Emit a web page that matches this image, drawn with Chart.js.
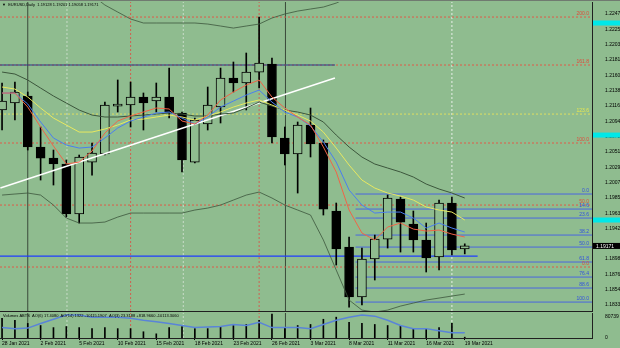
<!DOCTYPE html>
<html>
<head>
<meta charset="utf-8">
<script src="https://cdn.jsdelivr.net/npm/chart.js@4.4.1/dist/chart.umd.min.js"></script>
<style>
  html, body { margin: 0; padding: 0; background: #8fbc8f; }
  #wrap { position: relative; width: 620px; height: 348px; overflow: hidden; background: #8fbc8f; }
  #main { position: absolute; left: 0; top: 0; }
  #vol { position: absolute; left: 0; top: 312px; }
</style>
</head>
<body>
<div id="wrap">
  <canvas id="main" width="620" height="312"></canvas>
  <canvas id="vol" width="620" height="36"></canvas>
</div>
<script>
// EURUSD daily, 28 Jan 2021 .. 19 Mar 2021 (bar index 0..36)
const dateTickBars = [0, 3, 6, 9, 12, 15, 18, 21, 24, 27, 30, 33, 36];
const dateLabels = ["28 Jan 2021", "2 Feb 2021", "5 Feb 2021", "10 Feb 2021", "15 Feb 2021", "18 Feb 2021",
  "23 Feb 2021", "26 Feb 2021", "3 Mar 2021", "8 Mar 2021", "11 Mar 2021", "16 Mar 2021", "19 Mar 2021"];

const opens = [1.21106, 1.21205, 1.21305, 1.20579, 1.20422, 1.20337, 1.19625, 1.20365, 1.20479, 1.21162,
  1.21177, 1.21291, 1.21234, 1.21291, 1.21063, 1.20365, 1.20906, 1.21148, 1.21561, 1.21490,
  1.21646, 1.21760, 1.20707, 1.20479, 1.20892, 1.20636, 1.19668, 1.19155, 1.18444, 1.18985,
  1.19269, 1.19839, 1.19483, 1.19255, 1.19013, 1.19782, 1.19128];
const highs = [1.21490, 1.21504, 1.21362, 1.20864, 1.20536, 1.20394, 1.20465, 1.20636, 1.21219, 1.21533,
  1.21504, 1.21348, 1.21490, 1.21703, 1.21077, 1.20992, 1.21433, 1.21703, 1.21789, 1.21917,
  1.22429, 1.21846, 1.20864, 1.20935, 1.21134, 1.20679, 1.19782, 1.19298, 1.19141, 1.19326,
  1.19896, 1.19867, 1.19668, 1.19497, 1.19824, 1.19867, 1.19201];
const lows = [1.20821, 1.20963, 1.20536, 1.20109, 1.20038, 1.19582, 1.19497, 1.20180, 1.20465, 1.21077,
  1.20864, 1.20821, 1.21077, 1.20992, 1.20223, 1.20351, 1.20821, 1.20921, 1.21362, 1.21106,
  1.21419, 1.20636, 1.20323, 1.19924, 1.20437, 1.19611, 1.18899, 1.18301, 1.18330, 1.18686,
  1.19141, 1.19084, 1.19084, 1.18800, 1.18828, 1.19042, 1.19058];
const closes = [1.21234, 1.21362, 1.20579, 1.20422, 1.20337, 1.19625, 1.20437, 1.20493, 1.21177, 1.21191,
  1.21291, 1.21205, 1.21291, 1.21063, 1.20394, 1.20963, 1.21177, 1.21561, 1.21490, 1.21646,
  1.21775, 1.20721, 1.20479, 1.20892, 1.20622, 1.19696, 1.19127, 1.18444, 1.18985, 1.19269,
  1.19853, 1.19511, 1.19255, 1.18999, 1.19782, 1.19113, 1.19171];

// moving averages and bands
const maRed = [1.21347, 1.21347, 1.21148, 1.20863, 1.20593, 1.20337, 1.20365, 1.20522, 1.20778, 1.20949,
  1.21020, 1.21077, 1.21134, 1.21120, 1.20949, 1.20906, 1.21034, 1.21248, 1.21362, 1.21461,
  1.21532, 1.21290, 1.21134, 1.21006, 1.20892, 1.20579, 1.20223, 1.19682, 1.19355, 1.19255,
  1.19440, 1.19497, 1.19411, 1.19383, 1.19397, 1.19340, 1.19298];
const maBlue = [1.21347, 1.21347, 1.21191, 1.20935, 1.20707, 1.20607, 1.20564, 1.20579, 1.20707, 1.20849,
  1.20949, 1.21006, 1.21063, 1.21077, 1.20991, 1.20906, 1.21006, 1.21148, 1.21233, 1.21319,
  1.21390, 1.21219, 1.21077, 1.21006, 1.20878, 1.20650, 1.20365, 1.19967, 1.19753, 1.19639,
  1.19653, 1.19653, 1.19568, 1.19426, 1.19497, 1.19426, 1.19369];
const maYellow = [1.21433, 1.21404, 1.21290, 1.21134, 1.20991, 1.20892, 1.20792, 1.20792, 1.20835, 1.20892,
  1.20963, 1.20977, 1.21006, 1.21034, 1.21006, 1.20963, 1.21020, 1.21077, 1.21148, 1.21205,
  1.21248, 1.21176, 1.21105, 1.21034, 1.20949, 1.20792, 1.20564, 1.20322, 1.20109, 1.19995,
  1.19924, 1.19881, 1.19824, 1.19725, 1.19682, 1.19653, 1.19540];
const maDark = [1.21646, 1.21618, 1.21532, 1.21418, 1.21305, 1.21205, 1.21105, 1.21034, 1.21006, 1.21006,
  1.21020, 1.21034, 1.21048, 1.21063, 1.21048, 1.21020, 1.21020, 1.21048, 1.21063, 1.21134,
  1.21219, 1.21162, 1.21105, 1.21077, 1.21034, 1.20935, 1.20749, 1.20579, 1.20436, 1.20337,
  1.20280, 1.20223, 1.20152, 1.20052, 1.19981, 1.19924, 1.19853];
const bandUpper = [1.23098, 1.23070, 1.23027, 1.22984, 1.22927, 1.22870, 1.22813, 1.22742, 1.22600, 1.22500,
  1.22401, 1.22344, 1.22344, 1.22344, 1.22344, 1.22344, 1.22329, 1.22301, 1.22272, 1.22301,
  1.22329, 1.22415, 1.22472, 1.22514, 1.22543, 1.22571, 1.22628, 1.22714, 1.22800, 1.22850,
  1.22870, 1.22880, 1.22870, 1.22860, 1.22850, 1.22840, 1.22820];
const bandLower = [1.19895, 1.19910, 1.19924, 1.19895, 1.19753, 1.19568, 1.19497, 1.19497, 1.19511, 1.19582,
  1.19639, 1.19639, 1.19639, 1.19639, 1.19639, 1.19682, 1.19710, 1.19753, 1.19824, 1.19895,
  1.19938, 1.19853, 1.19753, 1.19682, 1.19611, 1.19255, 1.18828, 1.18401, 1.18258, 1.18230,
  1.18258, 1.18315, 1.18358, 1.18401, 1.18429, 1.18458, 1.18486];

// volume panel
const volumes = [73000, 65400, 53800, 46100, 38400, 42300, 38400, 34600, 38400, 34600,
  34600, 23100, 15400, 38400, 42300, 34600, 34600, 42300, 46100, 50000,
  65400, 88400, 38400, 46100, 50000, 69200, 76900, 57700, 53800, 50000,
  46100, 46100, 34600, 34600, 38400, 53800, 3000];
const volLine = [38400, 34600, 36500, 53800, 69200, 84600, 84600, 76900, 76900, 76900,
  73000, 65400, 59600, 53800, 46100, 38400, 40400, 42300, 50000, 46100,
  57700, 38400, 38400, 38400, 34600, 50000, 65400, 76900, 84600, 80700,
  65400, 46100, 34600, 34600, 26900, 19200, 19200];
const volTicks = [0, 80739];

// price axis
const priceTicks = [1.18330, 1.18548, 1.18766, 1.18984, 1.19420, 1.19638, 1.19856, 1.20074,
  1.20292, 1.20510, 1.20728, 1.20946, 1.21164, 1.21382, 1.21600, 1.21818, 1.22036, 1.22254, 1.22472];
const cyanMarks = [1.22344, 1.20749, 1.19540];
const lastPrice = 1.19171;

// drawn objects
const redLevels = [1.22429, 1.21746, 1.20636, 1.19753, 1.18871];
const redLevelNames = ["200.0", "161.8", "100.0", "50.0", "0.0"];
const fibLevels = [1.19910, 1.19696, 1.19568, 1.19326, 1.19155, 1.18942, 1.18728, 1.18572, 1.18372];
const fibNames = ["0.0", "14.6", "23.6", "38.2", "50.0", "61.8", "76.4", "88.6", "100.0"];
const yellowLevel = 1.21048;
const navyLine = { from: -0.2, to: 25.9, price: 1.21746 };
const blueLine = { from: -0.2, to: 37.0, price: 1.19027 };
const trendLine = [{ x: -0.13, y: 1.19995 }, { x: 25.9, y: 1.21562 }];
const vLines = [
  { bar: 2, color: "#3a4a3a", dash: [] },
  { bar: 5.05, color: "#c8dcc8", dash: [2, 2] },
  { bar: 10, color: "#d06050", dash: [2, 2] },
  { bar: 14.1, color: "#c8dcc8", dash: [2, 2] },
  { bar: 20, color: "#d06050", dash: [2, 2] },
  { bar: 22.05, color: "#3a4a3a", dash: [] },
  { bar: 35, color: "#e8f0e8", dash: [2, 2] }
];

const BG = "#8fbc8f";
const FONT = "'Liberation Sans', Arial, sans-serif";
const X_MIN = -0.16, X_MAX = 45.9;
const Y_MIN = 1.18245, Y_MAX = 1.22643;

Chart.defaults.font.family = FONT;
Chart.defaults.animation = false;

function series(arr) {
  return arr.map((v, i) => ({ x: i, y: v }));
}

function hLine(price, from, to, color, dash, width) {
  return {
    type: "line", data: [{ x: from, y: price }, { x: to, y: price }],
    borderColor: color, borderWidth: width || 1, borderDash: dash || [],
    pointRadius: 0, order: 20
  };
}

function maLine(arr, color, width) {
  return {
    type: "line", data: series(arr), borderColor: color, borderWidth: width || 1,
    pointRadius: 0, tension: 0, order: 1
  };
}

const mainOverlay = {
  id: "mainOverlay",
  afterDraw(chart) {
    const { ctx, chartArea } = chart;
    const y = chart.scales.y;
    ctx.save();
    ctx.font = "5px " + FONT;
    ctx.textAlign = "right";
    ctx.textBaseline = "bottom";
    ctx.fillStyle = "#e04a3a";
    redLevels.forEach((p, i) => ctx.fillText(redLevelNames[i], chartArea.right - 3, y.getPixelForValue(p) - 0.5));
    ctx.fillStyle = "#3050e0";
    fibLevels.forEach((p, i) => ctx.fillText(fibNames[i], chartArea.right - 3, y.getPixelForValue(p) - 0.5));
    ctx.fillStyle = "#e8e850";
    ctx.fillText("123.6", chartArea.right - 3, y.getPixelForValue(yellowLevel) - 0.5);

    // axis markers
    ctx.fillStyle = "#00e8e8";
    cyanMarks.forEach(p => {
      const py = y.getPixelForValue(p);
      ctx.fillRect(chartArea.right + 1, py - 2.5, 27, 5);
    });
    const lp = y.getPixelForValue(lastPrice);
    ctx.fillStyle = "#000";
    ctx.fillRect(chartArea.right + 1, lp - 3, 27, 6);
    ctx.fillStyle = "#fff";
    ctx.textAlign = "left";
    ctx.textBaseline = "middle";
    ctx.fillText(lastPrice.toFixed(5), chartArea.right + 4, lp + 0.5);

    // title
    ctx.fillStyle = "#000";
    ctx.font = "4px " + FONT;
    ctx.fillText("\u25BC  EURUSD,Daily  1.19128 1.19201 1.19058 1.19171", 2, 5);

    // frame
    ctx.strokeStyle = "#707a70";
    ctx.lineWidth = 1;
    ctx.beginPath();
    ctx.moveTo(0, 0.5); ctx.lineTo(620, 0.5);
    ctx.stroke();
    ctx.strokeStyle = "#202020";
    ctx.beginPath();
    ctx.moveTo(0, chartArea.bottom + 0.5); ctx.lineTo(chartArea.right, chartArea.bottom + 0.5);
    ctx.stroke();
    ctx.restore();
  }
};

const mainDatasets = [
  // candle bodies over wicks
  {
    type: "bar",
    data: opens.map((o, i) => ({ x: i, y: [o, closes[i]] })),
    backgroundColor: opens.map((o, i) => closes[i] >= o ? BG : "#000"),
    borderColor: "#000", borderWidth: 1, borderSkipped: false,
    barThickness: 9, grouped: false, minBarLength: 1, order: 5
  },
  {
    type: "bar",
    data: lows.map((l, i) => ({ x: i, y: [l, highs[i]] })),
    backgroundColor: "#000", borderWidth: 0,
    barThickness: 1, grouped: false, order: 6
  },
  maLine(maRed, "#f06448", 1),
  maLine(maBlue, "#4a7ef0", 1),
  maLine(maYellow, "#e8e860", 1),
  maLine(maDark, "#3c563c", 1),
  maLine(bandUpper, "#3c563c", 0.8),
  maLine(bandLower, "#3c563c", 0.8),
  {
    type: "line", data: trendLine, borderColor: "#ffffff", borderWidth: 1.5,
    pointRadius: 0, order: 2
  },
  hLine(navyLine.price, navyLine.from, navyLine.to, "#243a8a", [], 1.2),
  hLine(blueLine.price, blueLine.from, blueLine.to, "#1e3cff", [], 1.2),
  hLine(yellowLevel, X_MIN, X_MAX, "#e0e060", [2, 2], 1)
];
redLevels.forEach(p => mainDatasets.push(hLine(p, X_MIN, X_MAX, "#e05a48", [2, 2], 1)));
fibLevels.forEach(p => mainDatasets.push(hLine(p, 27.5, X_MAX, "#4a66e0", [], 1)));
vLines.forEach(v => mainDatasets.push({
  type: "line", data: [{ x: v.bar, y: Y_MIN }, { x: v.bar, y: Y_MAX }],
  borderColor: v.color, borderWidth: 1, borderDash: v.dash, pointRadius: 0, order: 30
}));

new Chart(document.getElementById("main"), {
  type: "bar",
  data: { datasets: mainDatasets },
  options: {
    responsive: false,
    layout: { padding: { top: 2, bottom: 1, left: 0, right: 0 } },
    plugins: { legend: { display: false }, tooltip: { enabled: false } },
    scales: {
      x: { type: "linear", min: X_MIN, max: X_MAX, offset: false, display: false },
      y: {
        type: "linear", position: "right", min: Y_MIN, max: Y_MAX,
        afterBuildTicks: s => { s.ticks = priceTicks.map(v => ({ value: v })); },
        afterFit: s => { s.width = 28; s.paddingTop = 0; s.paddingBottom = 0; },
        ticks: { callback: v => v.toFixed(5), color: "#000", font: { size: 5 }, padding: 5 },
        grid: { display: false },
        border: { display: true, color: "#202020", width: 1 }
      }
    }
  },
  plugins: [mainOverlay]
});

const volOverlay = {
  id: "volOverlay",
  afterDraw(chart) {
    const { ctx } = chart;
    ctx.save();
    ctx.fillStyle = "#000";
    ctx.font = "4px " + FONT;
    ctx.textBaseline = "middle";
    ctx.fillText("Volumes ABTS  AO(6) 17.4080  AO(14) 1322 -10115.1907  AO(3) 23.3188 +818.9660 -10113.3060", 3, 3.5);
    ctx.restore();
  }
};

const volDatasets = [
  {
    type: "line", data: series(volLine), borderColor: "#5a84d8", borderWidth: 1.5,
    pointRadius: 0, order: 1
  },
  {
    type: "bar", data: series(volumes), backgroundColor: "#000",
    barThickness: 1, grouped: false, order: 2
  }
];
vLines.forEach(v => volDatasets.push({
  type: "line", data: [{ x: v.bar, y: 0 }, { x: v.bar, y: 92280 }],
  borderColor: v.color, borderWidth: 1, borderDash: v.dash, pointRadius: 0, order: 30
}));

new Chart(document.getElementById("vol"), {
  type: "bar",
  data: { datasets: volDatasets },
  options: {
    responsive: false,
    layout: { padding: { top: 1, bottom: 0, left: 0, right: 0 } },
    plugins: { legend: { display: false }, tooltip: { enabled: false } },
    scales: {
      x: {
        type: "linear", min: X_MIN, max: X_MAX, offset: false,
        afterBuildTicks: s => { s.ticks = dateTickBars.map(v => ({ value: v })); },
        afterFit: s => { s.height = 10; },
        ticks: {
          callback: v => dateLabels[dateTickBars.indexOf(v)], align: "start",
          maxRotation: 0, autoSkip: false, color: "#000", font: { size: 5 }, padding: 1
        },
        grid: { drawOnChartArea: false, offset: false, tickLength: 2, color: "#000" },
        border: { display: true, color: "#202020", width: 1 }
      },
      y: {
        type: "linear", position: "right", min: 0, max: 92280,
        afterBuildTicks: s => { s.ticks = volTicks.map(v => ({ value: v })); },
        afterFit: s => { s.width = 28; s.paddingTop = 0; s.paddingBottom = 0; },
        ticks: { callback: v => String(v), color: "#000", font: { size: 5 }, padding: 5 },
        grid: { display: false },
        border: { display: true, color: "#202020", width: 1 }
      }
    }
  },
  plugins: [volOverlay]
});
</script>
</body>
</html>
